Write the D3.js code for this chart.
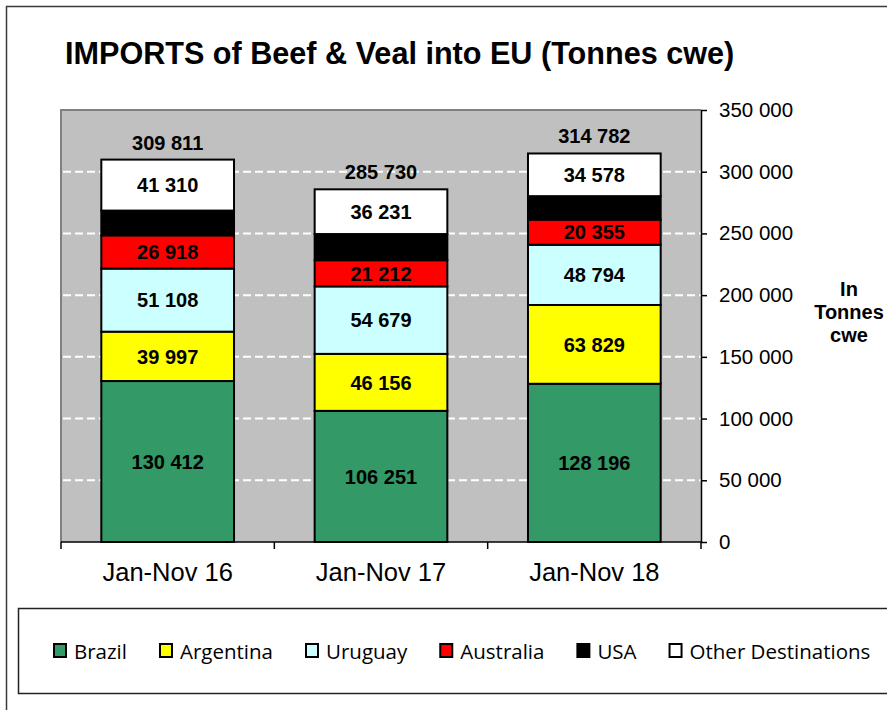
<!DOCTYPE html>
<html>
<head>
<meta charset="utf-8">
<script src="https://cdn.jsdelivr.net/npm/d3@7"></script>
<style>
  body { margin: 0; background: #fff; }
  svg { display: block; }
</style>
</head>
<body>
<svg id="chart" width="887" height="710"></svg>
<script>
// data
const periods = ["Jan-Nov 16", "Jan-Nov 17", "Jan-Nov 18"];
const origins = ["Brazil", "Argentina", "Uruguay", "Australia", "USA", "Other Destinations"];
const brazil = [130412, 106251, 128196];
const argentina = [39997, 46156, 63829];
const uruguay = [51108, 54679, 48794];
const australia = [26918, 21212, 20355];
const usa = [20066, 21201, 19030];
const other = [41310, 36231, 34578];
const totals = [309811, 285730, 314782];
const yTicks = [0, 50000, 100000, 150000, 200000, 250000, 300000, 350000];

const colors = ["#339966", "#ffff00", "#ccffff", "#ff0000", "#000000", "#ffffff"];
const showLabel = [true, true, true, true, false, true];

const svg = d3.select("#chart");
const fmt = v => d3.format(",")(v).replace(/,/g, " ");
const sans = "Liberation Sans, Arial, sans-serif";

// build rows for the stack
const series = [brazil, argentina, uruguay, australia, usa, other];
const rows = periods.map((p, i) => {
    const r = { period: p };
    origins.forEach((o, k) => { r[o] = series[k][i]; });
    return r;
});
const stacked = d3.stack().keys(origins)(rows);

// plot area
const plot = { left: 61, right: 701, top: 110, bottom: 542 };

const x = d3.scaleBand()
    .domain(periods)
    .range([plot.left, plot.right])
    .paddingInner(0.378)
    .paddingOuter(0.189);

const y = d3.scaleLinear()
    .domain([0, 350000])
    .range([plot.bottom, plot.top]);

// outer chart border
svg.append("rect")
    .attr("x", 6.5).attr("y", 6.5)
    .attr("width", 1000).attr("height", 1000)
    .attr("fill", "none")
    .attr("stroke", "#3a3a3a")
    .attr("stroke-width", 1.5);

// title
svg.append("text")
    .attr("x", 65).attr("y", 64)
    .attr("font-family", sans)
    .attr("font-weight", "bold")
    .attr("font-size", 30.6)
    .attr("fill", "#000")
    .text("IMPORTS of Beef & Veal into EU (Tonnes cwe)");

// grey background
svg.append("rect")
    .attr("x", plot.left).attr("y", plot.top)
    .attr("width", plot.right - plot.left)
    .attr("height", plot.bottom - plot.top)
    .attr("fill", "#c0c0c0");

svg.append("path")
    .attr("d", `M${plot.left},${plot.bottom} V${plot.top} H${plot.right}`)
    .attr("fill", "none")
    .attr("stroke", "#808080")
    .attr("stroke-width", 2);

// dashed gridlines
svg.append("g")
    .selectAll("line")
    .data(yTicks.filter(t => t > 0 && t < 350000))
    .join("line")
    .attr("x1", plot.left + 2).attr("x2", plot.right)
    .attr("y1", d => y(d)).attr("y2", d => y(d))
    .attr("stroke", "#fff")
    .attr("stroke-width", 2)
    .attr("stroke-dasharray", "8,4");

// stacked bars
const layer = svg.append("g")
    .selectAll("g")
    .data(stacked)
    .join("g")
    .attr("fill", (d, i) => colors[i]);

layer.selectAll("rect")
    .data(d => d)
    .join("rect")
    .attr("x", d => x(d.data.period))
    .attr("y", d => y(d[1]))
    .attr("width", x.bandwidth())
    .attr("height", d => y(d[0]) - y(d[1]))
    .attr("stroke", "#000")
    .attr("stroke-width", 2);

// value labels inside segments
svg.append("g")
    .selectAll("g")
    .data(stacked.filter((d, i) => showLabel[i]))
    .join("g")
    .selectAll("text")
    .data(d => d.map(v => ({ v: v, key: d.key })))
    .join("text")
    .attr("x", d => x(d.v.data.period) + x.bandwidth() / 2)
    .attr("y", d => (y(d.v[0]) + y(d.v[1])) / 2)
    .attr("dy", "0.36em")
    .attr("text-anchor", "middle")
    .attr("font-family", sans)
    .attr("font-weight", "bold")
    .attr("font-size", 20)
    .text(d => fmt(d.v.data[d.key]));

// totals above bars
svg.append("g")
    .selectAll("text")
    .data(periods)
    .join("text")
    .attr("x", d => x(d) + x.bandwidth() / 2)
    .attr("y", (d, i) => y(totals[i]) - 10)
    .attr("text-anchor", "middle")
    .attr("font-family", sans)
    .attr("font-weight", "bold")
    .attr("font-size", 20)
    .text((d, i) => fmt(totals[i]));

// right value axis
const yAxis = svg.append("g")
    .attr("transform", `translate(${plot.right},0)`)
    .call(d3.axisRight(y).tickValues(yTicks).tickFormat(fmt).tickSize(6).tickPadding(12).tickSizeOuter(0));
yAxis.select(".domain").attr("stroke", "#000").attr("stroke-width", 1.5);
yAxis.selectAll(".tick line").attr("stroke", "#000").attr("stroke-width", 1.5);
yAxis.selectAll(".tick text")
    .attr("font-family", sans)
    .attr("font-size", 20.5)
    .attr("fill", "#000");

// category axis
svg.append("line")
    .attr("x1", plot.left).attr("x2", plot.right)
    .attr("y1", plot.bottom).attr("y2", plot.bottom)
    .attr("stroke", "#000").attr("stroke-width", 1.5);

const bounds = periods.map(p => x(p) - x.step() * x.paddingInner() / 2).concat([plot.right]);
svg.append("g")
    .selectAll("line")
    .data(bounds)
    .join("line")
    .attr("x1", d => d).attr("x2", d => d)
    .attr("y1", plot.bottom).attr("y2", plot.bottom + 7)
    .attr("stroke", "#000").attr("stroke-width", 1.5);

svg.append("g")
    .selectAll("text")
    .data(periods)
    .join("text")
    .attr("x", d => x(d) + x.bandwidth() / 2)
    .attr("y", 581)
    .attr("text-anchor", "middle")
    .attr("font-family", sans)
    .attr("font-size", 25.5)
    .text(d => d);

// unit note
svg.append("text")
    .attr("x", 849).attr("y", 296)
    .attr("text-anchor", "middle")
    .attr("font-family", sans)
    .attr("font-weight", "bold")
    .attr("font-size", 20)
    .selectAll("tspan")
    .data(["In", "Tonnes", "cwe"])
    .join("tspan")
    .attr("x", 849)
    .attr("dy", (d, i) => i === 0 ? 0 : 23)
    .text(d => d);

// legend
svg.append("rect")
    .attr("x", 18.5).attr("y", 608.5)
    .attr("width", 1000).attr("height", 85)
    .attr("fill", "#fff")
    .attr("stroke", "#222")
    .attr("stroke-width", 1.5);

const legend = svg.append("g").attr("transform", "translate(54,0)");
let cursor = 0;
origins.forEach((o, i) => {
    const item = legend.append("g").attr("transform", `translate(${cursor},0)`);
    item.append("rect")
        .attr("x", 0).attr("y", 644)
        .attr("width", 12).attr("height", 13)
        .attr("fill", colors[i])
        .attr("stroke", "#000")
        .attr("stroke-width", 2);
    const t = item.append("text")
        .attr("x", 20).attr("y", 659)
        .attr("font-family", "Open Sans, sans-serif")
        .attr("font-size", 20.5)
        .attr("fill", "#000")
        .text(o);
    cursor += 20 + t.node().getComputedTextLength() + 33;
});
</script>
</body>
</html>
